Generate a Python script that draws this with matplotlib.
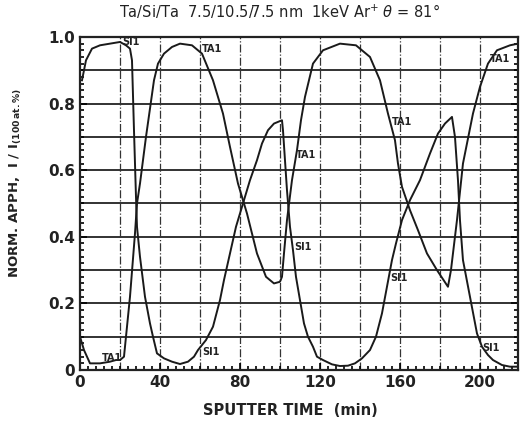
import numpy as np
import matplotlib
matplotlib.use('Agg')
from matplotlib import pyplot as plt
from matplotlib.ticker import MultipleLocator, FixedLocator

# Ta signal (TA1)
ta_t = [0, 2, 5, 10, 15, 18, 20, 22, 23, 25, 27.5, 28.5, 30, 33, 37, 39, 42, 46, 50,
        56, 61, 66.5, 71.5, 75, 79, 83.5, 86, 88.5, 93, 97, 100, 101, 102, 103.5, 106,
        108.5, 110.5, 112.5, 116.5, 121.5, 130, 138, 145, 150, 154, 157.5, 159, 161,
        165, 169, 173.5, 178.5, 184, 185.5, 188.5, 191.5, 196.5, 200, 204, 208.5, 215, 219]
ta_v = [0.10, 0.06, 0.02, 0.02, 0.025, 0.03, 0.03, 0.04, 0.10, 0.22, 0.41, 0.50, 0.56, 0.70, 0.87, 0.92, 0.95, 0.97, 0.98,
        0.975, 0.95, 0.87, 0.77, 0.67, 0.56, 0.47, 0.41, 0.35, 0.28, 0.26, 0.265, 0.28, 0.35, 0.45, 0.57,
        0.66, 0.75, 0.82, 0.92, 0.96, 0.98, 0.975, 0.94, 0.87, 0.77, 0.69, 0.62, 0.55,
        0.48, 0.42, 0.35, 0.30, 0.25, 0.30, 0.45, 0.62, 0.77, 0.85, 0.92, 0.96, 0.975, 0.98]

# Si signal (SI1)
si_t = [1, 3, 6, 10, 15, 20, 23, 25, 26, 27, 28, 28.5, 30, 32.5, 35, 36.5, 38.5, 42, 46, 50,
        54, 57, 59, 63, 66.5, 70, 72, 75, 78, 81.5, 85, 88.5, 91, 94, 97, 99, 101, 101.5,
        102.5, 103.5, 105, 106.5, 108, 110, 112, 114, 116.5, 118.5, 121.5, 126, 130, 134,
        137.5, 141, 145, 148, 151, 153.5, 156, 158, 161, 165, 170, 175, 179, 182.5, 186,
        187.5, 189, 190, 191.5, 195, 198.5, 201, 204, 206.5, 211, 215, 219]
si_v = [0.87, 0.93, 0.965, 0.975, 0.98, 0.985, 0.975, 0.965, 0.93, 0.72, 0.52, 0.43, 0.34, 0.22, 0.14, 0.10, 0.05, 0.035, 0.025, 0.018,
        0.025, 0.04, 0.06, 0.09, 0.13, 0.21, 0.27, 0.35, 0.43, 0.50, 0.57, 0.63, 0.68, 0.72, 0.74, 0.745, 0.75, 0.72,
        0.63, 0.54, 0.43, 0.36, 0.28, 0.21, 0.14, 0.10, 0.07, 0.04, 0.03, 0.017, 0.012, 0.013,
        0.02, 0.035, 0.06, 0.10, 0.17, 0.25, 0.33, 0.38, 0.45, 0.51, 0.57, 0.65, 0.71, 0.74, 0.76,
        0.70, 0.57, 0.45, 0.33, 0.22, 0.11, 0.07, 0.045, 0.03, 0.015, 0.01, 0.01]

# curve labels
lab_text = ['SI1', 'TA1', 'TA1', 'SI1', 'TA1', 'SI1', 'TA1', 'SI1', 'TA1', 'SI1']
lab_t = [21, 11, 61, 61, 108, 107, 156, 155, 205, 201]
lab_v = [0.985, 0.035, 0.965, 0.055, 0.645, 0.37, 0.745, 0.275, 0.935, 0.065]

fig = plt.figure(figsize=(5.28, 4.30), dpi=100)
ax = fig.add_axes([0.1515, 0.1395, 0.8295, 0.7745])

ax.plot(ta_t, ta_v, color='#1a1a1a', lw=1.4)
ax.plot(si_t, si_v, color='#1a1a1a', lw=1.4)

for s, x, y in zip(lab_text, lab_t, lab_v):
    ax.text(x, y, s, fontsize=7, fontweight='bold', color='#222222', va='center', ha='left')

ax.set_xlim(0, 219)
ax.set_ylim(0, 1.0)

for yy in np.arange(0.1, 1.0, 0.1):
    ax.axhline(yy, color='#222222', lw=1.3, zorder=0)
for xx in range(20, 220, 20):
    ax.axvline(xx, color='#333333', lw=0.9, ls='-.', zorder=0)

ax.xaxis.set_major_locator(FixedLocator([0, 40, 80, 120, 160, 200]))
ax.yaxis.set_major_locator(FixedLocator([0, 0.2, 0.4, 0.6, 0.8, 1.0]))
ax.set_yticklabels(['0', '0.2', '0.4', '0.6', '0.8', '1.0'])
ax.xaxis.set_minor_locator(MultipleLocator(4))
ax.yaxis.set_minor_locator(MultipleLocator(0.02))
ax.tick_params(which='both', direction='in', top=False, right=True, labelsize=11, width=1.2)
ax.tick_params(which='major', length=5)
ax.tick_params(which='minor', length=3)
for lbl in ax.get_xticklabels() + ax.get_yticklabels():
    lbl.set_fontweight('bold')
    lbl.set_color('#222222')
for sp in ax.spines.values():
    sp.set_linewidth(1.6)
    sp.set_color('#222222')

fig.text(0.53, 0.972, r'Ta/Si/Ta  7.5/10.5/7.5 nm  1keV Ar$^{+}$ $\theta$ = 81°',
         ha='center', va='center', fontsize=10.5, color='#222222')
fig.text(0.55, 0.045, 'SPUTTER TIME  (min)', ha='center', va='center',
         fontsize=10.5, fontweight='bold', color='#222222')
fig.text(0.03, 0.575, r'NORM. APPH,  I / I$_{\mathbf{(100\,at.\%)}}$', rotation=90,
         ha='center', va='center', fontsize=9.5, fontweight='bold', color='#222222')

fig.savefig('out.png', dpi=100)
